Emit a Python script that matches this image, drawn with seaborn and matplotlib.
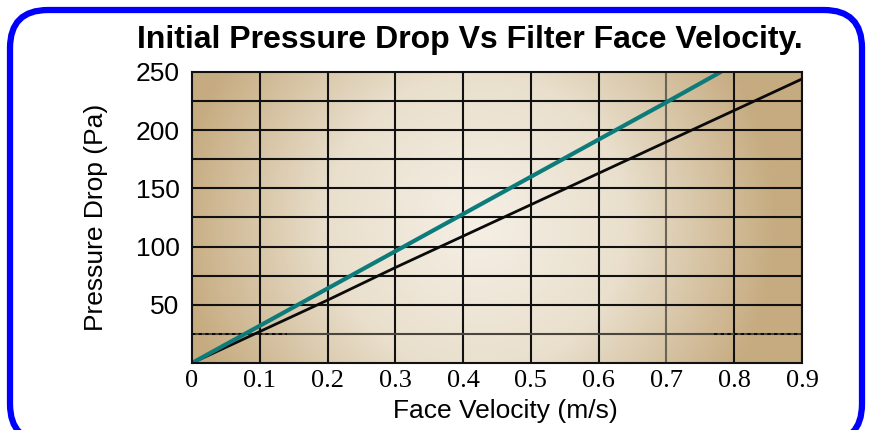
import numpy as np
import pandas as pd
import seaborn as sns
import matplotlib.pyplot as plt
from matplotlib.colors import LinearSegmentedColormap
from matplotlib.patches import FancyBboxPatch

# data
velocity_a = [0, 0.1, 0.2, 0.3, 0.4, 0.5, 0.6, 0.7, 0.78]
drop_a = [0, 32, 64, 96, 128, 160, 192, 224, 250]
velocity_b = [0, 0.1, 0.2, 0.3, 0.4, 0.5, 0.6, 0.7, 0.8, 0.9]
drop_b = [0, 27, 54, 82, 109, 136, 163, 190, 217, 244]

x_ticks = [0, 0.1, 0.2, 0.3, 0.4, 0.5, 0.6, 0.7, 0.8, 0.9]
x_labels = ["0", "0.1", "0.2", "0.3", "0.4", "0.5", "0.6", "0.7", "0.8", "0.9"]
y_ticks = [50, 100, 150, 200, 250]
y_grid = [25, 50, 75, 100, 125, 150, 175, 200, 225]

sns.set_style("white")
plt.rcParams['font.family'] = ['Liberation Sans', 'DejaVu Sans']
plt.rcParams['text.color'] = 'black'
plt.rcParams['xtick.color'] = 'black'
plt.rcParams['ytick.color'] = 'black'
plt.rcParams['axes.labelcolor'] = 'black'

fig = plt.figure(figsize=(8.71, 4.30), dpi=100)
ax = fig.add_axes([0.2204, 0.1558, 0.7004, 0.6768])

# radial beige background
cmap = LinearSegmentedColormap.from_list("bg", ["#f5efe5", "#e9dfcc", "#c6ab80"])
gx, gy = np.meshgrid(np.linspace(0, 610, 300), np.linspace(0, 291, 150))
r = np.sqrt((gx - 285) ** 2 + (gy - 140) ** 2) / 300
ax.imshow(np.clip(r, 0, 1), cmap=cmap, extent=(0, 0.9, 0, 250), aspect="auto",
          origin="lower", zorder=0, vmin=0, vmax=1)

# grid
for xv in x_ticks[1:]:
    col = "#6b6558" if xv == 0.7 else "#111111"
    ax.axvline(xv, color=col, lw=1.5, zorder=1)
for yv in y_grid:
    col = "#4a463e" if yv == 25 else "#111111"
    ax.axhline(yv, color=col, lw=1.5, zorder=1)
ax.plot([0, 0.14], [25, 25], color="black", lw=1.2, ls=(0, (2, 2)), zorder=1)
ax.plot([0.77, 0.9], [25, 25], color="black", lw=1.2, ls=(0, (2, 2)), zorder=1)

df_a = pd.DataFrame({"v": velocity_a, "p": drop_a})
df_b = pd.DataFrame({"v": velocity_b, "p": drop_b})
sns.lineplot(data=df_b, x="v", y="p", ax=ax, color="#0a0a0a", lw=2, zorder=3)
sns.lineplot(data=df_a, x="v", y="p", ax=ax, color="#0e7b7b", lw=3, zorder=4)

ax.set_xlim(0, 0.9)
ax.set_ylim(0, 250)
ax.set_xticks(x_ticks)
ax.set_xticklabels(x_labels, fontfamily="Liberation Serif", fontsize=19)
ax.set_yticks(y_ticks)
ax.set_yticklabels([str(v) for v in y_ticks], fontsize=19)
ax.tick_params(axis="both", length=0)
ax.tick_params(axis="x", pad=5)
ax.tick_params(axis="y", pad=9)
for s in ax.spines.values():
    s.set_color("#111111")
    s.set_linewidth(1.5)
    s.set_zorder(5)

ax.set_xlabel("Face Velocity (m/s)", fontsize=19)
ax.xaxis.set_label_coords(0.513, -0.125)
ax.set_ylabel("Pressure Drop (Pa)", fontsize=19)
ax.yaxis.set_label_coords(-0.138, 0.5)

fig.text(0.54, 0.907, "Initial Pressure Drop Vs Filter Face Velocity.",
         ha="center", va="center", fontsize=23, fontweight="bold")

# rounded blue frame (display coords, bottom edge runs off the picture)
frame = FancyBboxPatch((10, -12), 852, 432, boxstyle="round,pad=0,rounding_size=38",
                       transform=None, fill=False, edgecolor="#0000ff", lw=4.5)
fig.patches.append(frame)

fig.savefig("out.png", dpi=100)
